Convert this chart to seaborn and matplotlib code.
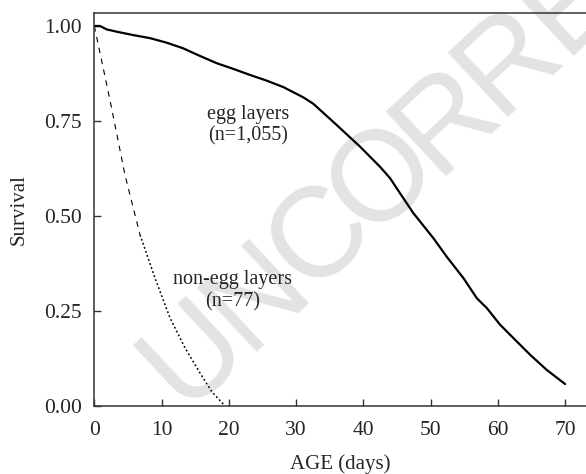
import matplotlib
matplotlib.use("Agg")
import matplotlib.pyplot as plt
import seaborn as sns
import pandas as pd
import numpy as np
from matplotlib.ticker import FormatStrFormatter

# survival curve of egg layers (age in days, fraction alive)
egg_age = [0.0, 0.85, 1.84, 3.33, 5.80, 8.28, 10.77, 13.24, 15.72, 18.20, 20.67, 23.16,
           25.64, 28.11, 31.08, 32.57, 36.05, 39.52, 42.49, 43.98, 45.47, 47.44, 50.42,
           52.41, 54.88, 56.87, 58.36, 60.34, 62.31, 64.80, 67.28, 70.0]
egg_surv = [1.000, 1.000, 0.991, 0.985, 0.976, 0.968, 0.956, 0.941, 0.921, 0.902, 0.887,
            0.871, 0.856, 0.839, 0.812, 0.795, 0.739, 0.682, 0.629, 0.599, 0.559, 0.507,
            0.441, 0.392, 0.336, 0.283, 0.257, 0.213, 0.178, 0.134, 0.094, 0.057]

# survival curve of non-egg layers
non_age = [0.0, 2.33, 4.57, 6.80, 9.03, 11.26, 13.49, 15.72, 17.50, 19.19]
non_surv = [1.000, 0.805, 0.607, 0.450, 0.336, 0.231, 0.152, 0.086, 0.036, 0.004]

x_ticks = [0, 10, 20, 30, 40, 50, 60, 70]
y_ticks = [0.00, 0.25, 0.50, 0.75, 1.00]

egg = pd.DataFrame({"age": egg_age, "survival": egg_surv})
non = pd.DataFrame({"age": non_age, "survival": non_surv})

sns.set_theme(style="ticks")
plt.rcParams["font.family"] = ["Liberation Serif", "DejaVu Serif"]

W, H = 586, 474
fig = plt.figure(figsize=(W / 100, H / 100), dpi=100)
ax = fig.add_axes([94.3 / W, (H - 405.7) / H, 1 - 94.3 / W, (405.7 - 12.7) / H])
ax.set_facecolor("none")

# faint proof watermark, set letter by letter along a diagonal, behind the axes
angle = 43
step = 86
start = np.array([195.0, H - 355.0])
direction = np.array([np.cos(np.radians(angle)), np.sin(np.radians(angle))])
for i, ch in enumerate("UNCORRECTED"):
    px, py = start + i * step * direction
    if px > W + 80 or py > H + 80:
        break
    fig.text(px / W, py / H, ch, family="Liberation Sans", fontsize=92, color="#e3e3e3",
             rotation=angle, rotation_mode="anchor", ha="center", va="center", zorder=-1)

sns.lineplot(data=egg, x="age", y="survival", ax=ax, color="black", linewidth=1.6)
# the steep early part is drawn dashed, the tail dotted
sns.lineplot(data=non.iloc[:4], x="age", y="survival", ax=ax, color="black",
             linewidth=0.8, linestyle=(0, (5, 5)))
sns.lineplot(data=non.iloc[3:], x="age", y="survival", ax=ax, color="black",
             linewidth=1.1, linestyle=(0, (1.2, 1.6)))

ax.text(22.8, 0.739, "egg layers\n(n=1,055)", ha="center", va="center", fontsize=14.5,
        linespacing=1.2)
ax.text(20.6, 0.303, "non-egg layers\n(n=77)", ha="center", va="center", fontsize=14.5,
        linespacing=1.2)

ax.set_xlim(0, 73.1)
ax.set_ylim(0, 1.035)
ax.set_xticks(x_ticks)
ax.set_yticks(y_ticks)
ax.yaxis.set_major_formatter(FormatStrFormatter("%.2f"))
ax.tick_params(direction="in", length=5, width=1, labelsize=15.5, color="#333333")
ax.tick_params(axis="x", pad=11)
ax.tick_params(axis="y", pad=9)
ax.set_xlabel("AGE (days)", fontsize=15, labelpad=10)
ax.set_ylabel("Survival", fontsize=15, labelpad=11)

ax.spines["right"].set_visible(False)
for s in ["left", "bottom", "top"]:
    ax.spines[s].set_color("#333333")
    ax.spines[s].set_linewidth(1.1)

fig.savefig("out.png", dpi=100)
